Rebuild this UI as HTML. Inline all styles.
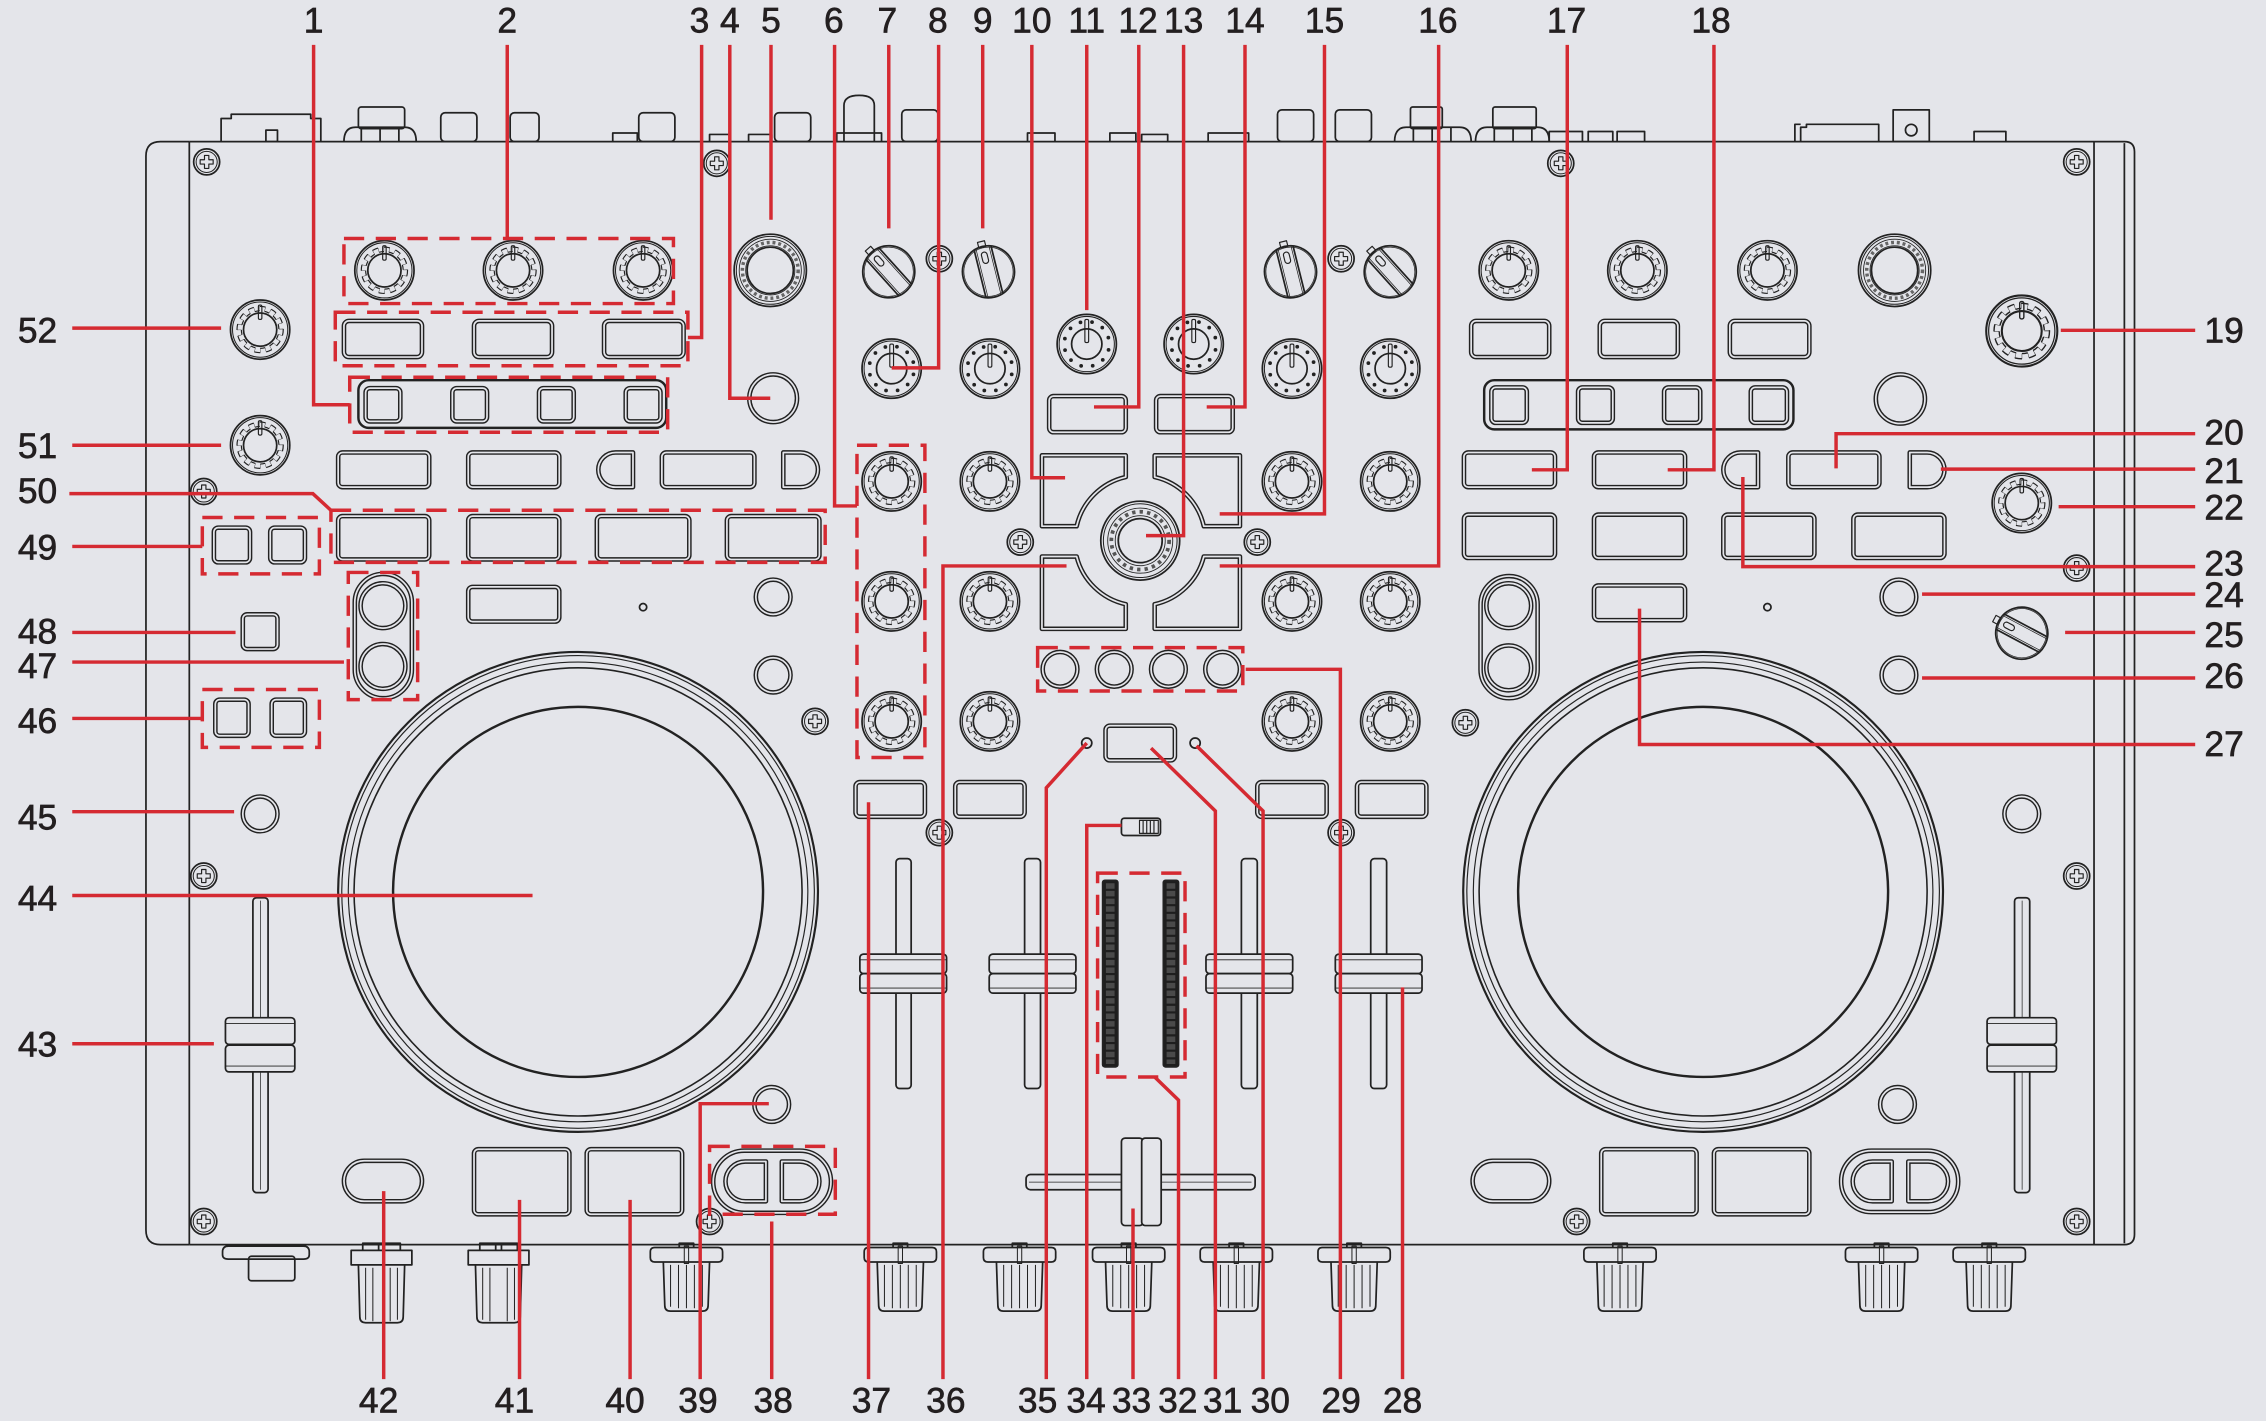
<!DOCTYPE html>
<html><head><meta charset="utf-8">
<style>
html,body{margin:0;padding:0;background:#e4e5ea;}
svg{display:block}
text{font-family:"Liberation Sans",Arial,sans-serif;font-size:24.5px;fill:#231f20;stroke:#231f20;stroke-width:0.45px;}
</style></head><body>
<svg width="2266" height="1421" viewBox="0 0 1568 983" preserveAspectRatio="none" xmlns="http://www.w3.org/2000/svg">
<defs>
<g id="kA">
<circle r="20.5"/>
<circle r="19.1" stroke-width=".7"/>
<circle r="16" pathLength="24" stroke-dasharray="1 1" stroke-width=".8"/>
<circle r="13" pathLength="24" stroke-dasharray="1 1" stroke-dashoffset="1" stroke-width=".8"/>
<circle r="14.5" pathLength="24" stroke-dasharray=".07 .93" stroke-dashoffset=".035" stroke-width="3"/>
<circle r="11.5"/>
<rect x="-1.2" y="-17" width="2.4" height="10" rx="1" stroke-width=".8"/>
</g>
<g id="kD">
<circle r="20.5"/>
<circle r="19.1" stroke-width=".7"/>
<circle r="15.6" pathLength="12" stroke-dasharray="0 1" stroke-dashoffset="-.5" stroke-linecap="round" stroke-width="2.6"/>
<circle r="10.5"/>
<rect x="-1.3" y="-17" width="2.6" height="16" rx="1" stroke-width=".8"/>
</g>
<g id="kB">
<circle r="25"/>
<circle r="23.5" stroke-width=".7"/>
<circle r="21.5" stroke-width=".6"/>
<circle r="19.3" pathLength="30" stroke-dasharray=".5 .5" stroke-width="2.4" stroke="#666"/>
<circle r="17" stroke-width=".6"/>
<circle r="16"/>
</g>
<g id="kJ">
<circle r="27.3"/>
<circle r="25.5" stroke-width=".7"/>
<circle r="22.5" stroke-width=".6"/>
<circle r="20" pathLength="24" stroke-dasharray=".45 .55" stroke-width="2.6" stroke="#555"/>
<circle r="17.3" stroke-width=".6"/>
<circle r="15.2"/>
</g>
<g id="kS">
<circle r="18"/>
<circle r="17" stroke-width=".5"/>
<path d="M-6,-17 V17 M6,-17 V17"/>
<path d="M-4.6,-17.4 V17.4 M4.6,-17.4 V17.4" stroke-width=".5"/>
<rect x="-2" y="-14" width="4" height="8" rx="2" stroke-width=".8"/>
<rect x="-2.5" y="-21.5" width="5" height="4" stroke-width=".8"/>
</g>
<g id="sc">
<circle r="9"/>
<circle r="7.3" stroke-width=".7"/>
<path d="M-1.5,-4.5 H1.5 V-1.5 H4.5 V1.5 H1.5 V4.5 H-1.5 V1.5 H-4.5 V-1.5 H-1.5 Z" stroke-width=".8"/>
</g>
<g id="fc">
<rect x="-30" y="0" width="60" height="13.5" rx="2.5"/>
<rect x="-30" y="13.5" width="60" height="13.5" rx="2.5"/>
<path d="M-30,4 H30 M-30,23.5 H30" stroke-width=".6"/>
</g>
<g id="pc">
<rect x="-24" y="0" width="48" height="18.5" rx="2.5"/>
<rect x="-24" y="19" width="48" height="18.5" rx="2.5"/>
<path d="M-24,4 H24 M-24,33.5 H24" stroke-width=".6"/>
</g>
<g id="kn">
<path d="M-5,0 V-3 H5 V0"/>
<path d="M-25,3 Q-25,0 -22,0 H22 Q25,0 25,3 V7 Q25,10 22,10 H-22 Q-25,10 -25,7 Z"/>
<path d="M-16,10 L-15,40 Q-15,44 -11,44 H11 Q15,44 15,40 L16,10"/>
<path d="M-11,12 V41 M-5.5,12 V42 M0,12 V42 M5.5,12 V42 M11,12 V41" stroke-width=".7"/>
<rect x="-1.5" y="-1" width="3" height="12" stroke-width=".7"/>
</g>
<g id="kl">
<path d="M-13,0 V-5 H13 V0 M-2,-5 V0 M2,-5 V0"/>
<rect x="-21" y="0" width="42" height="10"/>
<path d="M-16,10 L-15,46 Q-15,50 -11,50 H11 Q15,50 15,46 L16,10"/>
<path d="M-11,12 V48 M-6,12 V49 M6,12 V49 M11,12 V48" stroke-width=".7"/>
</g>
<g id="btns">
<rect x="238" y="222" width="54" height="25" rx="3.5"/>
<rect x="328" y="222" width="54" height="25" rx="3.5"/>
<rect x="418" y="222" width="55" height="25" rx="3.5"/>
<rect x="253" y="268.5" width="24" height="23" rx="3"/>
<rect x="313" y="268.5" width="24" height="23" rx="3"/>
<rect x="373" y="268.5" width="24" height="23" rx="3"/>
<rect x="433" y="268.5" width="24" height="23" rx="3"/>
<circle cx="535" cy="275.5" r="16.5"/>
<rect x="234" y="313" width="63" height="24" rx="3"/>
<rect x="324" y="313" width="63" height="24" rx="3"/>
<rect x="458" y="313" width="64" height="24" rx="3"/>
<path d="M438,313 H426 A12,12 0 0 0 426,337 H438 Z"/>
<path d="M542,313 H554 A12,12 0 0 1 554,337 H542 Z"/>
<rect x="234" y="357" width="63" height="30" rx="3"/>
<rect x="324" y="357" width="63" height="30" rx="3"/>
<rect x="413" y="357" width="64" height="30" rx="3"/>
<rect x="503" y="357" width="64" height="30" rx="3"/>
<rect x="324" y="406" width="63" height="24" rx="3"/>
<circle cx="535" cy="413" r="12"/>
<circle cx="535" cy="467" r="12"/>
<rect x="148" y="365" width="25" height="24" rx="3"/>
<rect x="187" y="365" width="24" height="24" rx="3"/>
<rect x="168" y="425" width="24" height="24" rx="3"/>
<rect x="149" y="484" width="23" height="25" rx="3"/>
<rect x="188" y="484" width="23" height="25" rx="3"/>
<rect x="245.5" y="397" width="39.5" height="86" rx="19.75"/>
<circle cx="265" cy="419" r="15.5"/>
<circle cx="265" cy="461" r="15.5"/>
<circle cx="180" cy="563" r="12"/>
<circle cx="534" cy="764" r="12"/>
<rect x="238" y="803" width="54" height="28" rx="14"/>
<rect x="328" y="795" width="66" height="45" rx="3"/>
<rect x="406" y="795" width="66" height="45" rx="3"/>
<rect x="493.5" y="796" width="81.5" height="43" rx="21.5"/>
<path d="M530,803.5 H515.75 A13.75,13.75 0 0 0 515.75,831 H530 Z"/>
<path d="M541,803.5 H553.25 A13.75,13.75 0 0 1 553.25,831 H541 Z"/>
<rect x="726" y="274" width="53" height="25" rx="3"/>
<rect x="800" y="274" width="53" height="25" rx="3"/>
<path d="M721,315 H779 V330 A45,45 0 0 0 745,364 H721 Z"/>
<path d="M858,315 H799 V330 A45,45 0 0 1 833,364 H858 Z"/>
<path d="M721,435 H779 V418 A45,45 0 0 1 745,385 H721 Z"/>
<path d="M858,435 H799 V418 A45,45 0 0 0 833,385 H858 Z"/>
<circle cx="733.5" cy="463" r="12"/>
<circle cx="771" cy="463" r="12"/>
<circle cx="808.5" cy="463" r="12"/>
<circle cx="846" cy="463" r="12"/>
<rect x="765" y="502" width="48" height="24" rx="3"/>
<rect x="592" y="541" width="48" height="24" rx="3"/>
<rect x="661" y="541" width="48" height="24" rx="3"/>
<rect x="870" y="541" width="48" height="24" rx="3"/>
<rect x="939" y="541" width="48" height="24" rx="3"/>
<rect x="1018" y="222" width="54" height="25" rx="3.5"/>
<rect x="1107" y="222" width="54" height="25" rx="3.5"/>
<rect x="1197" y="222" width="55" height="25" rx="3.5"/>
<rect x="1032" y="268" width="24.5" height="24.5" rx="3"/>
<rect x="1092" y="268" width="24" height="24.5" rx="3"/>
<rect x="1151.5" y="268" width="25" height="24.5" rx="3"/>
<rect x="1211.5" y="268" width="25" height="24.5" rx="3"/>
<circle cx="1315" cy="276" r="17"/>
<rect x="1013" y="313" width="63" height="24" rx="3"/>
<rect x="1103" y="313" width="63" height="24" rx="3"/>
<rect x="1237.5" y="313" width="63" height="24" rx="3"/>
<path d="M1216.5,313 H1204.5 A12,12 0 0 0 1204.5,337 H1216.5 Z"/>
<path d="M1321.5,313 H1333.5 A12,12 0 0 1 1333.5,337 H1321.5 Z"/>
<rect x="1013" y="356" width="63" height="30" rx="3"/>
<rect x="1103" y="356" width="63" height="30" rx="3"/>
<rect x="1192.5" y="356" width="63" height="30" rx="3"/>
<rect x="1282.5" y="356" width="63" height="30" rx="3"/>
<rect x="1103" y="405" width="63" height="24" rx="3"/>
<rect x="1024.5" y="398.5" width="39.5" height="84.5" rx="19.75"/>
<circle cx="1044" cy="419" r="15.5"/>
<circle cx="1044" cy="462" r="15.5"/>
<circle cx="1314" cy="413" r="12"/>
<circle cx="1314" cy="467" r="12"/>
<circle cx="1399" cy="563" r="12"/>
<circle cx="1313" cy="764" r="12"/>
<rect x="1019" y="803" width="53" height="28" rx="14"/>
<rect x="1108" y="795" width="66" height="45" rx="3"/>
<rect x="1186" y="795" width="66" height="45" rx="3"/>
<rect x="1274" y="796" width="81" height="42.5" rx="21"/>
<path d="M1309,803.5 H1295.75 A13.75,13.75 0 0 0 1295.75,831 H1309 Z"/>
<path d="M1320.5,803.5 H1334.25 A13.75,13.75 0 0 1 1334.25,831 H1320.5 Z"/>
</g>
</defs>

<rect width="1568" height="983" fill="#e4e5ea"/>

<g fill="none" stroke="#222" stroke-width="1.2" stroke-linejoin="round">
<path d="M131,98 H111 Q101,98 101,108 V851 Q101,861 111,861 H131"/>
<path d="M131,98 H1449 M131,861 H1449 M131,98 V861 M1449,98 V861"/>
<path d="M1449,98 H1470 Q1477,98 1477,105 V854 Q1477,861 1470,861 H1449 M1470,99 V860"/>
<path d="M153,98 V82 H160 V79 H215 V82 H222 V98"/>
<rect x="184" y="90" width="8" height="8"/>
<rect x="248" y="74" width="32" height="15" rx="2"/>
<path d="M238,98 Q238,88 246,88 H280 Q288,88 288,98 M250,88 V98 M263,88 V98 M276,88 V98"/>
<rect x="305" y="78" width="25" height="20" rx="3"/>
<rect x="353" y="78" width="20" height="20" rx="3"/>
<rect x="442" y="78" width="25" height="20" rx="3"/>
<rect x="536" y="78" width="25" height="20" rx="3"/>
<rect x="624" y="76" width="25" height="22" rx="3"/>
<rect x="884" y="76" width="25" height="22" rx="3"/>
<rect x="924" y="76" width="25" height="22" rx="3"/>
<path d="M584,98 V73 Q584,66 594.5,66 Q605,66 605,73 V98 M579,98 V92 H610 V98"/>
<path d="M424,98 V92 H441 V98 M491,98 V93 H505 V98 M518,98 V93 H534 V98 M711,98 V92 H730 V98 M768,98 V92 H786 V98 M790,98 V93 H808 V98 M836,98 V92 H864 V98 M1072,98 V91 H1095 V98 M1099,98 V91 H1116 V98 M1119,98 V91 H1138 V98 M1366,98 V91 H1388 V98"/>
<rect x="976" y="74" width="22" height="15" rx="1.5"/>
<path d="M965,98 Q965,88 973,88 H1010 Q1018,88 1018,98 M978,88 V98 M991,88 V98 M1004,88 V98"/>
<rect x="1033" y="74" width="30" height="15" rx="1.5"/>
<path d="M1021,98 Q1021,88 1029,88 H1064 Q1072,88 1072,98 M1034,88 V98 M1047,88 V98 M1060,88 V98"/>
<path d="M1242,98 V86 H1246 M1246,98 V88 H1250 V86 H1300 V98"/>
<rect x="1310" y="76" width="25" height="22"/>
<circle cx="1322.5" cy="90" r="4"/>

<use href="#sc" x="143" y="112"/><use href="#sc" x="496" y="113"/><use href="#sc" x="1080" y="113"/><use href="#sc" x="1437" y="112"/>
<use href="#sc" x="141" y="340"/><use href="#sc" x="650" y="179"/><use href="#sc" x="928" y="179"/>
<use href="#sc" x="706" y="375"/><use href="#sc" x="870" y="375"/>
<use href="#sc" x="564" y="499"/><use href="#sc" x="1014" y="500"/><use href="#sc" x="1437" y="393"/>
<use href="#sc" x="141" y="606"/><use href="#sc" x="1437" y="606"/>
<use href="#sc" x="650" y="576"/><use href="#sc" x="928" y="576"/>
<use href="#sc" x="141" y="845"/><use href="#sc" x="491" y="845"/><use href="#sc" x="1091" y="845"/><use href="#sc" x="1437" y="845"/>

<use href="#kA" x="266" y="187"/><use href="#kA" x="355" y="187"/><use href="#kA" x="445" y="187"/>
<use href="#kB" x="533" y="187"/>
<use href="#kA" x="180" y="228"/><use href="#kA" x="180" y="308"/>
<use href="#kA" x="1044" y="187"/><use href="#kA" x="1133" y="187"/><use href="#kA" x="1223" y="187"/>
<use href="#kB" x="1311" y="187"/>
<use href="#kA" transform="translate(1399,229) scale(1.2)"/>
<use href="#kA" x="1399" y="348"/>
<use href="#kS" transform="translate(615,188) rotate(-42)"/>
<use href="#kS" transform="translate(684,188) rotate(-14)"/>
<use href="#kS" transform="translate(893,188) rotate(-14)"/>
<use href="#kS" transform="translate(962,188) rotate(-42)"/>
<use href="#kS" transform="translate(1399,438) rotate(-62)"/>
<use href="#kD" x="617" y="255"/><use href="#kD" x="685" y="255"/><use href="#kD" x="894" y="255"/><use href="#kD" x="962" y="255"/>
<use href="#kD" x="752" y="238"/><use href="#kD" x="826" y="238"/>
<use href="#kA" x="617" y="333"/><use href="#kA" x="685" y="333"/><use href="#kA" x="894" y="333"/><use href="#kA" x="962" y="333"/>
<use href="#kA" x="617" y="416"/><use href="#kA" x="685" y="416"/><use href="#kA" x="894" y="416"/><use href="#kA" x="962" y="416"/>
<use href="#kA" x="617" y="499"/><use href="#kA" x="685" y="499"/><use href="#kA" x="894" y="499"/><use href="#kA" x="962" y="499"/>
<use href="#kJ" x="789" y="374"/>

<rect x="248" y="263" width="213" height="33" rx="7" stroke-width="1.7"/>
<rect x="1027" y="263" width="214" height="34" rx="7" stroke-width="1.7"/>

<use href="#btns" stroke="#222" stroke-width="3.2"/>
<use href="#btns" stroke="#e4e5ea" stroke-width="1.2"/>

<circle cx="445" cy="420" r="2.5"/>
<circle cx="1223" cy="420" r="2.5"/>
<circle cx="752" cy="514" r="3.5"/>
<circle cx="827" cy="514" r="3.5"/>

<circle cx="400" cy="617" r="166" stroke-width="1.5"/>
<circle cx="400" cy="617" r="163.5" stroke-width=".8"/>
<circle cx="400" cy="617" r="159" stroke-width=".8"/>
<circle cx="400" cy="617" r="155" stroke-width="1.1"/>
<circle cx="400" cy="617" r="128" stroke-width="1.7"/>
<circle cx="1178.5" cy="617" r="166" stroke-width="1.5"/>
<circle cx="1178.5" cy="617" r="163.5" stroke-width=".8"/>
<circle cx="1178.5" cy="617" r="159" stroke-width=".8"/>
<circle cx="1178.5" cy="617" r="155" stroke-width="1.1"/>
<circle cx="1178.5" cy="617" r="128" stroke-width="1.7"/>

<rect x="175" y="621" width="10.5" height="204" rx="2.5"/>
<path d="M180.25,623 V823" stroke-width=".5"/>
<use href="#pc" fill="#e4e5ea" x="180" y="704"/>
<rect x="1394" y="621" width="10.5" height="204" rx="2.5"/>
<path d="M1399.25,623 V823" stroke-width=".5"/>
<use href="#pc" fill="#e4e5ea" x="1399" y="704"/>

<rect x="620" y="594" width="10.5" height="159" rx="2.5"/>
<rect x="709" y="594" width="11" height="159" rx="2.5"/>
<rect x="859" y="594" width="11" height="159" rx="2.5"/>
<rect x="948.5" y="594" width="11" height="159" rx="2.5"/>
<use href="#fc" fill="#e4e5ea" x="625" y="660"/>
<use href="#fc" fill="#e4e5ea" x="714.5" y="660"/>
<use href="#fc" fill="#e4e5ea" x="864.5" y="660"/>
<use href="#fc" fill="#e4e5ea" x="954" y="660"/>

<rect x="776" y="566" width="27" height="12" rx="2"/>
<rect x="788.5" y="567.5" width="13" height="9" stroke-width=".8"/>
<path d="M791,567.5 V576.5 M793.5,567.5 V576.5 M796,567.5 V576.5 M798.5,567.5 V576.5" stroke-width=".8"/>

<rect x="763" y="609" width="10.5" height="129" rx="1.5" fill="#1e1e1e"/>
<rect x="805" y="609" width="10.5" height="129" rx="1.5" fill="#1e1e1e"/>
<path d="M768.25,611 V736 M810.25,611 V736" stroke="#4a4a4a" stroke-width="6" stroke-dasharray="3.8 1.5"/>

<rect x="710" y="812.5" width="158.5" height="10.5" rx="3"/>
<path d="M712,817.75 H866" stroke-width=".5"/>
<rect x="776" y="787.3" width="15" height="60.5" rx="2.5" fill="#e4e5ea"/>
<rect x="790" y="787.3" width="13.5" height="60.5" rx="2.5" fill="#e4e5ea"/>

<path d="M154,866 Q154,862 158,862 H210 Q214,862 214,866 V868 Q214,871 210,871 H158 Q154,871 154,868 Z"/>
<rect x="172" y="869" width="32" height="17" rx="2"/>
<use href="#kl" x="264" y="865"/>
<use href="#kl" x="345" y="865"/>
<use href="#kn" x="475" y="863"/>
<use href="#kn" x="623" y="863"/>
<use href="#kn" x="705.5" y="863"/>
<use href="#kn" x="781" y="863"/>
<use href="#kn" x="855.5" y="863"/>
<use href="#kn" x="937" y="863"/>
<use href="#kn" x="1121" y="863"/>
<use href="#kn" x="1302" y="863"/>
<use href="#kn" x="1376.5" y="863"/>
</g>

<g fill="none" stroke="#d52a32" stroke-width="2.4">
<g stroke-dasharray="14 8">
<rect x="238" y="165" width="228" height="45"/>
<rect x="232" y="216" width="244" height="37"/>
<rect x="242" y="261" width="220" height="38"/>
<rect x="229" y="353" width="342" height="36"/>
<rect x="140" y="358" width="81" height="39"/>
<rect x="241" y="396" width="48" height="88"/>
<rect x="140" y="477" width="81" height="40"/>
<rect x="593" y="308" width="47" height="216"/>
<rect x="718" y="448" width="142" height="30"/>
<rect x="759.5" y="604" width="60.5" height="141"/>
<rect x="491" y="793" width="87" height="47"/>
</g>
<path d="M217,31 V280 H242"/>
<path d="M351,31 V165"/>
<path d="M485.5,31 V233.5 H476"/>
<path d="M505,31 V275.5 H533"/>
<path d="M533.5,31 V152"/>
<path d="M577.5,31 V350 H593"/>
<path d="M615,31 V158"/>
<path d="M649.5,31 V254.5 H617"/>
<path d="M680,31 V158"/>
<path d="M714,31 V330.5 H737"/>
<path d="M752,31 V214.5"/>
<path d="M788,31 V281.5 H757"/>
<path d="M819,31 V370.5 H793"/>
<path d="M861.5,31 V281.5 H835"/>
<path d="M916.5,31 V355.5 H844"/>
<path d="M995.5,31 V391.5 H844"/>
<path d="M1084.5,31 V325 H1060"/>
<path d="M1186,31 V325 H1154"/>
<path d="M1426,228.5 H1519"/>
<path d="M1270.5,324 V300 H1519"/>
<path d="M1343,324.5 H1519"/>
<path d="M1424.5,350.5 H1519"/>
<path d="M1206,330 V392 H1519"/>
<path d="M1330,411 H1519"/>
<path d="M1429,437.5 H1519"/>
<path d="M1330,469 H1519"/>
<path d="M1134.5,421 V515 H1519"/>
<path d="M50,227 H153"/>
<path d="M50,308 H153"/>
<path d="M48,341.5 H216.5 L229,353"/>
<path d="M50,378 H140"/>
<path d="M50,437.5 H163"/>
<path d="M50,458 H238"/>
<path d="M50,497 H140"/>
<path d="M50,561.5 H162"/>
<path d="M50,619.5 H368.5"/>
<path d="M50,722 H148"/>
<path d="M265.5,824 V954"/>
<path d="M359.5,830 V954"/>
<path d="M436,830 V954"/>
<path d="M532,763.5 H484.5 V954"/>
<path d="M534,845 V954"/>
<path d="M601,555 V954"/>
<path d="M738,391.5 H652.5 V954"/>
<path d="M752,514 L724,545 V954"/>
<path d="M776,571 H752 V954"/>
<path d="M784,836 V954"/>
<path d="M799,745 L815.5,761 V954"/>
<path d="M796.5,517.5 L841,561 V954"/>
<path d="M828,516 L874,561 V954"/>
<path d="M862,463 H927.5 V954"/>
<path d="M970.5,683 V954"/>
</g>

<g text-anchor="middle">
<text x="217" y="22.5">1</text>
<text x="351" y="22.5">2</text>
<text x="484" y="22.5">3</text>
<text x="505" y="22.5">4</text>
<text x="533.5" y="22.5">5</text>
<text x="577" y="22.5">6</text>
<text x="614" y="22.5">7</text>
<text x="649" y="22.5">8</text>
<text x="680" y="22.5">9</text>
<text x="714" y="22.5">10</text>
<text x="752" y="22.5">11</text>
<text x="787.5" y="22.5">12</text>
<text x="819" y="22.5">13</text>
<text x="861.5" y="22.5">14</text>
<text x="916.5" y="22.5">15</text>
<text x="995" y="22.5">16</text>
<text x="1084" y="22.5">17</text>
<text x="1184" y="22.5">18</text>
<text x="1539" y="237">19</text>
<text x="1539" y="307.5">20</text>
<text x="1539" y="334">21</text>
<text x="1539" y="359.5">22</text>
<text x="1539" y="398">23</text>
<text x="1539" y="420">24</text>
<text x="1539" y="447.5">25</text>
<text x="1539" y="476">26</text>
<text x="1539" y="523">27</text>
<text x="970.5" y="977">28</text>
<text x="928" y="977">29</text>
<text x="879" y="977">30</text>
<text x="846" y="977">31</text>
<text x="815" y="977">32</text>
<text x="783" y="977">33</text>
<text x="751.5" y="977">34</text>
<text x="718" y="977">35</text>
<text x="654.5" y="977">36</text>
<text x="603" y="977">37</text>
<text x="535" y="977">38</text>
<text x="483" y="977">39</text>
<text x="432.5" y="977">40</text>
<text x="356" y="977">41</text>
<text x="262" y="977">42</text>
<text x="26" y="731">43</text>
<text x="26" y="630">44</text>
<text x="26" y="574">45</text>
<text x="26" y="507">46</text>
<text x="26" y="469">47</text>
<text x="26" y="445">48</text>
<text x="26" y="387">49</text>
<text x="26" y="348">50</text>
<text x="26" y="317">51</text>
<text x="26" y="237">52</text>
</g>
</svg>
</body></html>
